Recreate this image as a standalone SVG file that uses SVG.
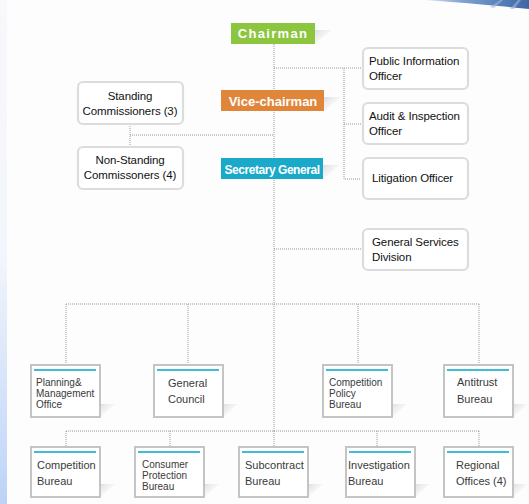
<svg xmlns="http://www.w3.org/2000/svg" width="529" height="504" viewBox="0 0 529 504">
<defs>
<linearGradient id="leftg" x1="0" y1="0" x2="0" y2="1">
<stop offset="0" stop-color="#f7f8fa"/>
<stop offset="0.5" stop-color="#f3f6fc"/>
<stop offset="1" stop-color="#bcd3f7"/>
</linearGradient>
<linearGradient id="swoosh" x1="0" y1="0" x2="1" y2="0">
<stop offset="0" stop-color="#dbe6f4"/>
<stop offset="0.35" stop-color="#7fa3d2"/>
<stop offset="0.7" stop-color="#5a82bb"/>
<stop offset="1" stop-color="#3e66a3"/>
</linearGradient>
<linearGradient id="shd" x1="0" y1="0" x2="1" y2="1">
<stop offset="0" stop-color="#d0d0d0" stop-opacity="0.7"/>
<stop offset="1" stop-color="#ffffff" stop-opacity="0"/>
</linearGradient>
<style>
.con{fill:none;stroke:#9a9a9a;stroke-width:1;stroke-dasharray:1 1}
.rbox{fill:#fff;stroke:#dcdcdc;stroke-width:2.2}
.bbox{fill:#fff;stroke:#c4c4c4;stroke-width:2}
.bl{stroke:#40bcd6;stroke-width:2}
.t1{font-family:"Liberation Sans",Arial,sans-serif;font-size:11.5px;fill:#111;letter-spacing:-0.1px}
.t2{font-family:"Liberation Sans",Arial,sans-serif;font-size:11px;fill:#3a3a3a}
.t3{font-family:"Liberation Sans",Arial,sans-serif;font-size:10px;fill:#3a3a3a}
.th{font-family:"Liberation Sans",Arial,sans-serif;font-weight:bold;fill:#fff;text-anchor:middle}
.sh{fill:url(#shd)}
</style>
</defs>
<rect x="0" y="0" width="529" height="504" fill="#fdfdfd"/>
<rect x="0" y="0" width="7" height="504" fill="url(#leftg)"/>
<path d="M425,0 Q470,3 529,9 L529,0 Z" fill="url(#swoosh)"/>
<path d="M490,7 L500,0 L503,0 L494,8 Z M510,9 L518,0 L521,0 L514,9 Z" fill="#9db7dc" opacity="0.6"/>

<g id="connectors">
<path class="con" d="M274,44 V431 M274,431 V447"/>
<path class="con" d="M274,68 H361 M344,68 V179 H361 M344,124 H361"/>
<path class="con" d="M130,124 V147 M130,135 H274"/>
<path class="con" d="M274,249 H361"/>
<path class="con" d="M66,304 H479 M66,304 V364 M188,304 V364 M358,304 V364 M479,304 V364"/>
<path class="con" d="M66,431 H479 M66,431 V447 M170,431 V447 M377,431 V447 M479,431 V447"/>
</g>

<g id="chairman">
<polygon class="sh" points="315,30 332,30 315,44"/>
<rect x="231" y="23" width="84" height="21" fill="#8cc63f"/>
<text class="th" x="273" y="38" font-size="13" letter-spacing="1.3">Chairman</text>
</g>
<g id="vice-chairman">
<polygon class="sh" points="324,97 341,97 324,111"/>
<rect x="221" y="90" width="103" height="21" fill="#e0863a"/>
<text class="th" x="273" y="106" font-size="13">Vice-chairman</text>
</g>
<g id="secretary-general">
<polygon class="sh" points="323,165 340,165 323,179"/>
<rect x="221" y="158" width="102" height="21" fill="#1ba9c9"/>
<text class="th" x="272" y="174" font-size="12" letter-spacing="-0.45">Secretary General</text>
</g>

<g id="standing">
<rect class="rbox" x="78" y="82" width="105" height="42" rx="5"/>
<text class="t1" x="130" y="100" text-anchor="middle">Standing</text>
<text class="t1" x="130" y="115" text-anchor="middle">Commissioners (3)</text>
</g>
<g id="non-standing">
<rect class="rbox" x="78" y="147" width="105" height="42" rx="5"/>
<text class="t1" x="130" y="164" text-anchor="middle">Non-Standing</text>
<text class="t1" x="130" y="179" text-anchor="middle">Commissoners (4)</text>
</g>

<g id="public-information">
<rect class="rbox" x="363" y="48" width="105" height="41" rx="5"/>
<text class="t1" x="369" y="65">Public Information</text>
<text class="t1" x="369" y="80">Officer</text>
</g>
<g id="audit">
<rect class="rbox" x="363" y="103" width="105" height="41" rx="5"/>
<text class="t1" x="369" y="120">Audit &amp; Inspection</text>
<text class="t1" x="369" y="135">Officer</text>
</g>
<g id="litigation">
<rect class="rbox" x="363" y="158" width="105" height="41" rx="5"/>
<text class="t1" x="372" y="182">Litigation Officer</text>
</g>
<g id="general-services">
<rect class="rbox" x="363" y="229" width="105" height="41" rx="5"/>
<text class="t1" x="372" y="246">General Services</text>
<text class="t1" x="372" y="261">Division</text>
</g>

<g id="planning">
<polygon class="sh" points="100,404 115,404 100,417"/>
<rect class="bbox" x="31" y="365" width="69" height="52"/>
<line class="bl" x1="34" y1="370" x2="96" y2="370"/>
<text class="t3" x="36" y="386">Planning&amp;</text>
<text class="t3" x="36" y="397">Management</text>
<text class="t3" x="36" y="408">Office</text>
</g>
<g id="general-council">
<polygon class="sh" points="223,404 238,404 223,417"/>
<rect class="bbox" x="154" y="365" width="69" height="52"/>
<line class="bl" x1="157" y1="370" x2="219" y2="370"/>
<text class="t2" x="168" y="387">General</text>
<text class="t2" x="168" y="403">Council</text>
</g>
<g id="competition-policy">
<polygon class="sh" points="392,404 407,404 392,417"/>
<rect class="bbox" x="323" y="365" width="69" height="52"/>
<line class="bl" x1="326" y1="370" x2="388" y2="370"/>
<text class="t3" x="329" y="386">Competition</text>
<text class="t3" x="329" y="397">Policy</text>
<text class="t3" x="329" y="408">Bureau</text>
</g>
<g id="antitrust">
<polygon class="sh" points="513,404 528,404 513,417"/>
<rect class="bbox" x="444" y="365" width="69" height="52"/>
<line class="bl" x1="447" y1="370" x2="509" y2="370"/>
<text class="t2" x="457" y="386">Antitrust</text>
<text class="t2" x="457" y="403">Bureau</text>
</g>

<g id="competition-bureau">
<polygon class="sh" points="100,484 115,484 100,497"/>
<rect class="bbox" x="31" y="447" width="69" height="50"/>
<line class="bl" x1="34" y1="452" x2="96" y2="452"/>
<text class="t2" x="37" y="469">Competition</text>
<text class="t2" x="37" y="485">Bureau</text>
</g>
<g id="consumer-protection">
<polygon class="sh" points="204,484 219,484 204,497"/>
<rect class="bbox" x="135" y="447" width="69" height="50"/>
<line class="bl" x1="138" y1="452" x2="200" y2="452"/>
<text class="t3" x="142" y="468">Consumer</text>
<text class="t3" x="142" y="479">Protection</text>
<text class="t3" x="142" y="490">Bureau</text>
</g>
<g id="subcontract">
<polygon class="sh" points="308,484 323,484 308,497"/>
<rect class="bbox" x="239" y="447" width="69" height="50"/>
<line class="bl" x1="242" y1="452" x2="304" y2="452"/>
<text class="t2" x="245" y="469">Subcontract</text>
<text class="t2" x="245" y="485">Bureau</text>
</g>
<g id="investigation">
<polygon class="sh" points="415,484 430,484 415,497"/>
<rect class="bbox" x="346" y="447" width="69" height="50"/>
<line class="bl" x1="349" y1="452" x2="411" y2="452"/>
<text class="t2" x="348" y="469">Investigation</text>
<text class="t2" x="348" y="485">Bureau</text>
</g>
<g id="regional">
<polygon class="sh" points="513,484 528,484 513,497"/>
<rect class="bbox" x="444" y="447" width="69" height="50"/>
<line class="bl" x1="447" y1="452" x2="509" y2="452"/>
<text class="t2" x="456" y="469">Regional</text>
<text class="t2" x="456" y="485">Offices (4)</text>
</g>
</svg>
